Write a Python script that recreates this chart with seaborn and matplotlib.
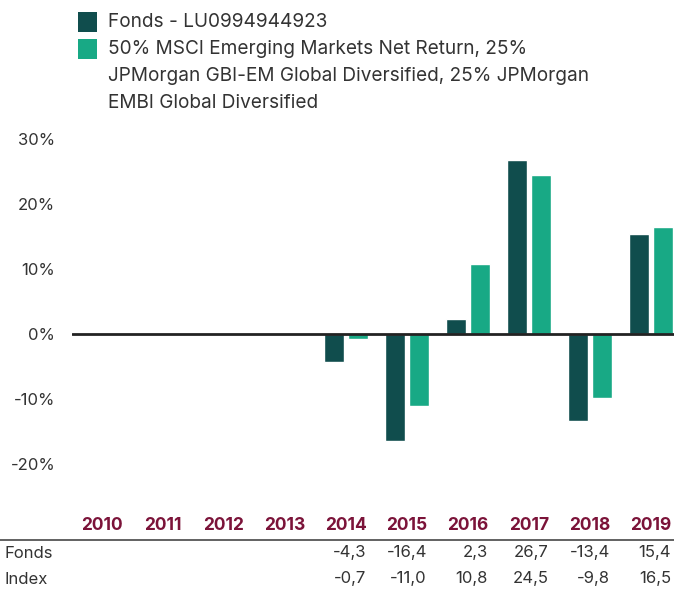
import numpy as np
import pandas as pd
import matplotlib.pyplot as plt
import matplotlib.transforms as mtransforms
from matplotlib.patches import Rectangle
from matplotlib.lines import Line2D
import seaborn as sns

# data
years = ['2010', '2011', '2012', '2013', '2014', '2015', '2016', '2017', '2018', '2019']
fonds = [np.nan, np.nan, np.nan, np.nan, -4.3, -16.4, 2.3, 26.7, -13.4, 15.4]
index = [np.nan, np.nan, np.nan, np.nan, -0.7, -11.0, 10.8, 24.5, -9.8, 16.5]
fonds_label = 'Fonds - LU0994944923'
index_label = ('50% MSCI Emerging Markets Net Return, 25%\n'
               'JPMorgan GBI-EM Global Diversified, 25% JPMorgan\n'
               'EMBI Global Diversified')
row_labels = ['Fonds', 'Index']
y_ticks = [-20, -10, 0, 10, 20, 30]

dark = '#104d4d'
green = '#18a985'
maroon = '#7b1339'
text_col = '#333333'

df = pd.DataFrame({
    'year': years * 2,
    'value': fonds + index,
    'series': ['Fonds'] * len(years) + ['Index'] * len(years),
})

sns.set_theme(style='white')
plt.rcParams['font.family'] = ['Inter', 'DejaVu Sans']

W, H = 674, 590
fig = plt.figure(figsize=(W / 100, H / 100), dpi=100)
ax = fig.add_axes([72 / W, 1 - 477 / H, 1 - 72 / W, (477 - 126) / H])

sns.barplot(data=df, x='year', y='value', hue='series', palette=[dark, green],
            saturation=1, width=0.78, gap=0.15, legend=False, ax=ax)

ax.set_xlim(-0.49, 9.38)
ax.set_ylim(-22, 32)
ax.axhline(0, color='#222222', lw=2, zorder=3)
sns.despine(ax=ax, left=True, bottom=True, top=True, right=True)
ax.set_xlabel('')
ax.set_ylabel('')
ax.set_xticks([])
ax.set_yticks(y_ticks)
ax.set_yticklabels([f'{t}%' for t in y_ticks], fontsize=12, color=text_col)
ax.tick_params(axis='y', length=0, pad=12)

# year labels and value table below the chart
trans = mtransforms.blended_transform_factory(ax.transData, fig.transFigure)
for i, yr in enumerate(years):
    ax.text(i, 1 - 525 / H, yr, transform=trans, ha='center', va='center',
            fontsize=12.5, fontweight='bold', color=maroon)
    for vals, ypix in [(fonds, 553), (index, 579)]:
        v = vals[i]
        if not np.isnan(v):
            ax.text(i + 0.33, 1 - ypix / H, f'{v:.1f}'.replace('.', ','),
                    transform=trans, ha='right', va='center', fontsize=12,
                    color=text_col)

for lbl, ypix in zip(row_labels, [553, 579]):
    fig.text(5 / W, 1 - ypix / H, lbl, ha='left', va='center',
             fontsize=12, color=text_col)

fig.add_artist(Line2D([0, 1], [1 - 540 / H, 1 - 540 / H],
                      transform=fig.transFigure, color='#555555', lw=1.3))

# legend: square at the first line, text lines 27px apart
line_y = 22
for color, label in [(dark, fonds_label), (green, index_label)]:
    fig.add_artist(Rectangle((78 / W, 1 - (line_y + 9.5) / H), 19 / W, 19 / H,
                             transform=fig.transFigure, facecolor=color,
                             edgecolor='none'))
    for part in label.split('\n'):
        fig.text(108 / W, 1 - line_y / H, part, ha='left', va='center',
                 fontsize=13.7, color=text_col)
        line_y += 27

fig.savefig('out.png', dpi=100)
